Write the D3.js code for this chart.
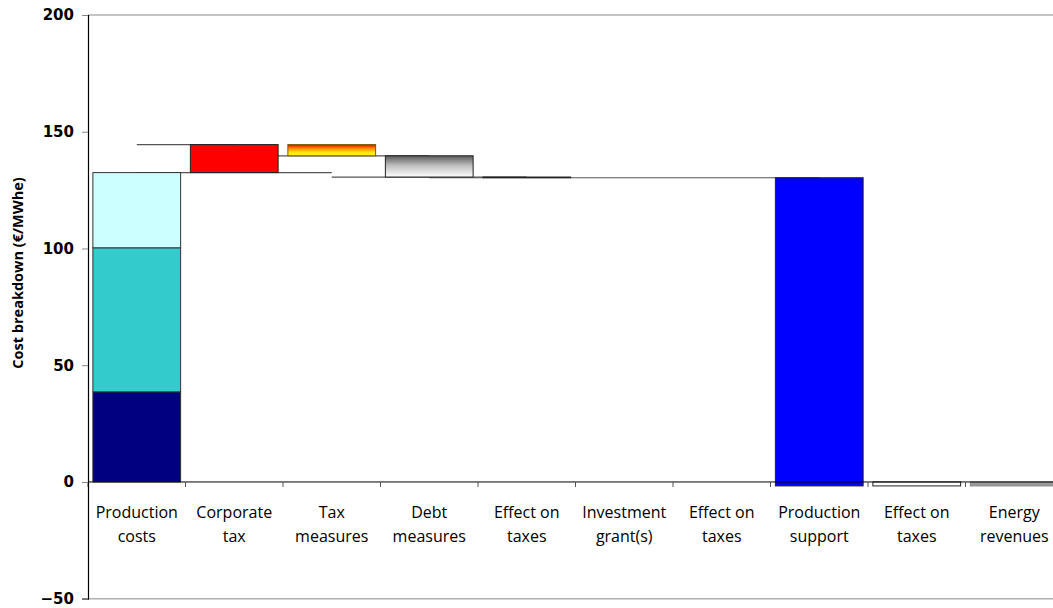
<!DOCTYPE html>
<html><head><meta charset="utf-8">
<script src="https://cdn.jsdelivr.net/npm/d3@7/dist/d3.min.js"></script>
<style>html,body{margin:0;padding:0;background:#fff;}svg{display:block;}</style>
</head><body>
<svg id="c" width="1053" height="608"></svg>
<script>
// ---- data ----
const categories = ["Production costs","Corporate tax","Tax measures","Debt measures","Effect on taxes","Investment grant(s)","Effect on taxes","Production support","Effect on taxes","Energy revenues"];
const categoryLines = [["Production","costs"],["Corporate","tax"],["Tax","measures"],["Debt","measures"],["Effect on","taxes"],["Investment","grant(s)"],["Effect on","taxes"],["Production","support"],["Effect on","taxes"],["Energy","revenues"]];
const productionParts = ["Part 1","Part 2","Part 3"];
const productionValues = [38.6, 61.7, 32.2];
const stepValues = [null, 12.0, -4.8, -9.1, -0.3, 0, 0, -132.0, 1.7, -1.7];
const yTicks = [-50, 0, 50, 100, 150, 200];
// connectors: [level after category i, from category, to category]
const connectors = [[1,0,1],[0,0,2],[2,1,3],[3,2,4],[4,3,7]];

// ---- layout ----
const L = 88, R = 1063, T = 15, B = 598.7;
const svg = d3.select("#c");
const x = d3.scaleBand().domain(d3.range(categories.length)).range([L, R]).paddingInner(0.1).paddingOuter(0.05);
const y = d3.scaleLinear().domain([-50, 200]).range([B, T]);

// waterfall levels
const prodTotal = d3.sum(productionValues);
const starts = [], ends = [];
let lvl = 0;
stepValues.forEach((v, i) => {
  if (i === 0) { starts.push(0); lvl = prodTotal; ends.push(lvl); }
  else { starts.push(lvl); lvl = lvl + v; ends.push(lvl); }
});

// gradients
const defs = svg.append("defs");
const g1 = defs.append("linearGradient").attr("id","gTax").attr("x1",0).attr("y1",0).attr("x2",0).attr("y2",1);
[[0,"#e80000"],[0.3,"#ff8000"],[0.65,"#ffe000"],[1,"#ffff00"]].forEach(s=>g1.append("stop").attr("offset",s[0]).attr("stop-color",s[1]));
const g2 = defs.append("linearGradient").attr("id","gDebt").attr("x1",0).attr("y1",0).attr("x2",0).attr("y2",1);
[[0,"#5a5a5a"],[0.45,"#bdbdbd"],[1,"#ffffff"]].forEach(s=>g2.append("stop").attr("offset",s[0]).attr("stop-color",s[1]));

// plot frame top & bottom
svg.append("line").attr("x1",L).attr("x2",1053).attr("y1",y(200)).attr("y2",y(200)).attr("stroke","#b0b0b0").attr("stroke-width",1.5);
svg.append("line").attr("x1",L).attr("x2",1053).attr("y1",y(-50)).attr("y2",y(-50)).attr("stroke","#b0b0b0").attr("stroke-width",1.5);

const cx = i => x(i) + x.bandwidth()/2;

// connectors
svg.append("g").selectAll("line").data(connectors).join("line")
  .attr("x1", d => cx(d[1])).attr("x2", d => cx(d[2]))
  .attr("y1", d => y(ends[d[0]])).attr("y2", d => y(ends[d[0]]))
  .attr("stroke","#555").attr("stroke-width",1.2);

// stacked production costs
const stackColors = ["#000080","#33cccc","#ccffff"];
let acc = 0;
const stackData = productionValues.map((v,k)=>{const d={k,y0:acc,y1:acc+v}; acc+=v; return d;});
svg.append("g").selectAll("rect").data(stackData).join("rect")
  .attr("x", x(0)).attr("width", x.bandwidth())
  .attr("y", d => y(d.y1)).attr("height", d => y(d.y0) - y(d.y1))
  .attr("fill", d => stackColors[d.k]).attr("stroke","#333").attr("stroke-width",1);

// waterfall bars
const barFill = {1:"#ff0000",2:"url(#gTax)",3:"url(#gDebt)",4:"#ffffff",7:"#0000ff",8:"#ffffff",9:"#999999"};
const barStroke = {1:"#222",2:"#7a5a00",3:"#222",4:"#222",7:"#222",8:"#222",9:"#888"};
const bars = d3.range(1, categories.length).filter(i => stepValues[i] !== 0);
svg.append("g").selectAll("rect").data(bars).join("rect")
  .attr("x", i => x(i)).attr("width", x.bandwidth())
  .attr("y", i => y(Math.max(starts[i], ends[i])))
  .attr("height", i => Math.abs(y(starts[i]) - y(ends[i])))
  .attr("fill", i => barFill[i]).attr("stroke", i => barStroke[i]).attr("stroke-width",1);

// x axis at zero
svg.append("line").attr("x1",L).attr("x2",1053).attr("y1",y(0)).attr("y2",y(0)).attr("stroke","#000").attr("stroke-width",1);
const bounds = d3.range(categories.length + 1).map(i => L + i * x.step());
svg.append("g").selectAll("line").data(bounds).join("line")
  .attr("x1", d => d).attr("x2", d => d).attr("y1", y(0)).attr("y2", y(0) + 5)
  .attr("stroke","#555").attr("stroke-width",1);

// category labels
const lab = svg.append("g").attr("font-family","'Open Sans', sans-serif").attr("font-size","16px").attr("fill","#000").attr("text-anchor","middle");
categoryLines.forEach((lines, i) => {
  const t = lab.append("text").attr("x", cx(i)).attr("y", 518);
  lines.forEach((s, k) => t.append("tspan").attr("x", cx(i)).attr("dy", k === 0 ? 0 : 24).text(s));
});

// y axis
const ya = svg.append("g").attr("transform", `translate(${L},0)`)
  .call(d3.axisLeft(y).tickValues(yTicks).tickSize(6).tickPadding(8));
ya.select(".domain").attr("stroke","#000").attr("stroke-width",1.2);
ya.selectAll(".tick line").attr("stroke","#888");
ya.selectAll(".tick text").attr("font-family","'DejaVu Sans', sans-serif").attr("font-weight","bold").attr("font-size","15px").attr("fill","#000");

// y title
svg.append("text").attr("transform", "translate(23,273) rotate(-90)")
  .attr("text-anchor","middle").attr("font-family","'Open Sans', sans-serif").attr("font-weight","bold")
  .attr("font-size","14.5px").attr("fill","#000").text("Cost breakdown (€/MWhe)");
</script>
</body></html>
